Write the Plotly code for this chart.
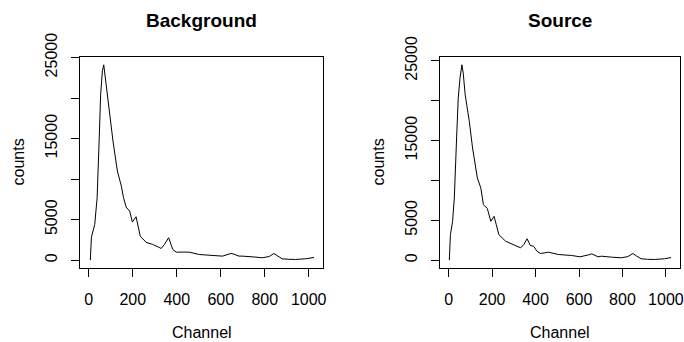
import plotly.graph_objects as go

W, H = 684, 342

bg_channel = [7, 12, 27, 38, 47, 54, 62, 68, 77, 95, 110, 130, 148, 158, 170, 186, 198, 215, 223, 234,
              261, 291, 318, 329, 344, 363, 382, 397, 430, 457, 502, 563, 608, 646, 660, 683, 698, 750,
              789, 820, 842, 860, 879, 910, 940, 985, 1015, 1024]
bg_counts = [0, 2840, 4400, 7700, 14700, 20470, 23350, 24100, 22100, 18000, 14700, 11000, 9140, 7700,
             6550, 6050, 4700, 5360, 4400, 2960, 2200, 1940, 1600, 1445, 1940, 2770, 1320, 990, 1000,
             990, 700, 620, 500, 830, 750, 500, 500, 400, 300, 450, 830, 500, 170, 110, 90, 170, 330, 330]

src_channel = [3, 8, 18, 26, 37, 44, 52, 57, 61, 67, 76, 95, 110, 132, 148, 160, 178, 194, 209, 219, 231,
               262, 277, 300, 323, 331, 346, 361, 376, 391, 406, 422, 460, 505, 566, 605, 650, 658, 688,
               703, 750, 795, 825, 848, 866, 886, 915, 947, 993, 1020, 1024]
src_counts = [0, 3200, 4880, 7800, 15700, 20300, 22800, 23660, 24500, 23460, 20740, 17400, 14070, 10300,
              9060, 6970, 6470, 4880, 5500, 4470, 3200, 2380, 2180, 1960, 1630, 1550, 1960, 2680, 1840,
              1750, 1130, 840, 1000, 710, 590, 420, 710, 800, 420, 500, 380, 300, 450, 840, 500, 175, 110,
              90, 175, 340, 330]

x_ticks = [0, 200, 400, 600, 800, 1000]
y_ticks = [0, 5000, 10000, 15000, 20000, 25000]
y_tick_text = ["0", "5000", "", "15000", "", "25000"]
titles = ["Background", "Source"]

FONT = "Liberation Sans, Arial, sans-serif"

fig = go.Figure()
fig.add_trace(go.Scatter(x=bg_channel, y=bg_counts, mode="lines",
                         line=dict(color="black", width=1), xaxis="x", yaxis="y", showlegend=False))
fig.add_trace(go.Scatter(x=src_channel, y=src_counts, mode="lines",
                         line=dict(color="black", width=1), xaxis="x2", yaxis="y2", showlegend=False))

xlo, xhi = 1 - 0.04 * 1023, 1024 + 0.04 * 1023

def yr(vals):
    m = max(vals)
    return [-0.04 * m, 1.04 * m]

ydom = [1 - 268 / H, 1 - 57 / H]
xdoms = [[80 / W, 323 / W], [440 / W, 680 / W]]

common_x = dict(range=[xlo, xhi], tickvals=x_ticks, ticks="outside", ticklen=8, tickcolor="black",
                showline=True, mirror=True, linecolor="black", linewidth=1, showgrid=False,
                zeroline=False, tickfont=dict(family=FONT, size=16, color="black"),
                ticklabelstandoff=9, automargin=False)
common_y = dict(tickvals=y_ticks, ticktext=y_tick_text, ticks="outside", ticklen=8, tickcolor="black",
                showline=True, mirror=True, linecolor="black", linewidth=1, showgrid=False,
                zeroline=False, tickangle=-90, tickfont=dict(family=FONT, size=16, color="black"),
                ticklabelstandoff=8, automargin=False)

fig.update_layout(
    template="none",
    width=W, height=H, margin=dict(l=0, r=0, t=0, b=0, pad=0, autoexpand=False),
    paper_bgcolor="white", plot_bgcolor="white",
    xaxis=dict(domain=xdoms[0], anchor="y", **common_x),
    yaxis=dict(domain=ydom, anchor="x", range=yr(bg_counts), **common_y),
    xaxis2=dict(domain=xdoms[1], anchor="y2", **common_x),
    yaxis2=dict(domain=ydom, anchor="x2", range=yr(src_counts), **common_y),
)

anns = []
for i, dom in enumerate(xdoms):
    cx = (dom[0] + dom[1]) / 2
    anns.append(dict(text="<b>%s</b>" % titles[i], x=cx, y=1 - 20 / H, xref="paper", yref="paper",
                     showarrow=False, font=dict(family=FONT, size=19, color="black"),
                     xanchor="center", yanchor="middle"))
    anns.append(dict(text="Channel", x=cx, y=1 - 332 / H, xref="paper", yref="paper",
                     showarrow=False, font=dict(family=FONT, size=16, color="black"),
                     xanchor="center", yanchor="middle", borderpad=0))
    lx = [18, 378][i]
    anns.append(dict(text="counts", x=lx / W, y=(ydom[0] + ydom[1]) / 2, xref="paper", yref="paper",
                     showarrow=False, textangle=-90, font=dict(family=FONT, size=16, color="black"),
                     xanchor="center", yanchor="middle"))
fig.update_layout(annotations=anns)

fig.write_html("out.html")
